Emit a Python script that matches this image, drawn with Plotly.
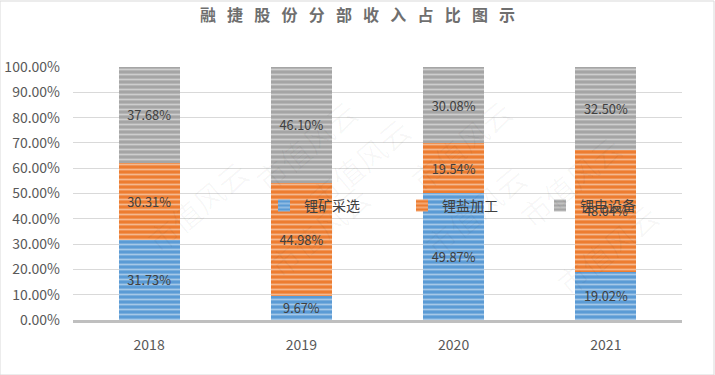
import plotly.graph_objects as go

years = ["2018", "2019", "2020", "2021"]
series_names = ["锂矿采选", "锂盐加工", "锂电设备"]
mining = [31.73, 9.67, 49.87, 19.02]
salt = [30.31, 44.98, 19.54, 48.04]
equipment = [37.68, 46.10, 30.08, 32.50]
colors = ["#5B9BD5", "#ED7D31", "#A5A5A5"]
tick_vals = [0, 10, 20, 30, 40, 50, 60, 70, 80, 90, 100]
tick_text = ["%.2f%%" % v for v in tick_vals]
title_text = "融捷股份分部收入占比图示"

font_cjk = "Noto Sans CJK SC, Noto Sans, sans-serif"

fig = go.Figure()
for name, vals, col in zip(series_names, [mining, salt, equipment], colors):
    fig.add_trace(go.Bar(
        x=years, y=vals, name=name,
        marker=dict(color=col, line=dict(width=0),
                    pattern=dict(shape="-", fgcolor="white", fgopacity=0.45, size=5, solidity=0.35)),
        text=["%.2f%%" % v for v in vals],
        textposition="inside", insidetextanchor="middle",
        textfont=dict(color="#404040", size=14, family=font_cjk),
        hoverinfo="skip",
    ))

# faint watermark
for (x, y) in [(0.28, 0.92), (0.74, 0.92), (0.1, 0.45), (0.47, 0.62), (0.92, 0.55), (0.3, 0.12), (0.66, 0.2), (0.98, 0.05)]:
    fig.add_annotation(x=x, y=y, xref="paper", yref="paper", text="市值风云", showarrow=False,
                       textangle=-40, font=dict(size=30, color="rgba(0,0,0,0.03)", family=font_cjk))

spaced_title = "\u2002\u2009".join(list(title_text))

fig.update_layout(
    width=715, height=375,
    barmode="stack", barnorm="percent", bargap=0.6,
    paper_bgcolor="white", plot_bgcolor="white",
    margin=dict(l=73, r=33, t=67, b=55, autoexpand=False),
    title=dict(text="<b>" + spaced_title + "</b>", x=0.5, xanchor="center", y=0.96, yanchor="middle",
               font=dict(size=16, color="#6F6F6F", family="Noto Sans CJK SC")),
    font=dict(family=font_cjk, color="#595959", size=14),
    uniformtext=dict(mode="show", minsize=8),
    legend=dict(orientation="h", x=(264 - 73) / 609, xanchor="left", y=0.451, yanchor="middle",
                bgcolor="rgba(0,0,0,0)", font=dict(size=14, color="#404040"),
                itemwidth=30, traceorder="normal", entrywidth=93),
    showlegend=True,
    xaxis=dict(showgrid=False, showline=True, linecolor="#BFBFBF", linewidth=3,
               tickfont=dict(size=14, color="#595959"), ticks="", ticklabelstandoff=10, automargin=False),
    yaxis=dict(range=[0, 100], tickvals=tick_vals, ticktext=tick_text, showgrid=True,
               gridcolor="#D9D9D9", gridwidth=1, zeroline=False, showline=False, automargin=False,
               tickfont=dict(size=14, color="#595959"), ticklabelstandoff=12),
)
fig.add_shape(type="rect", xref="paper", yref="paper", x0=-73/609, x1=1 + 32/609, y0=-55/253, y1=1 + 66/253,
              line=dict(color="#D9D9D9", width=1))

fig.write_html("out.html")
